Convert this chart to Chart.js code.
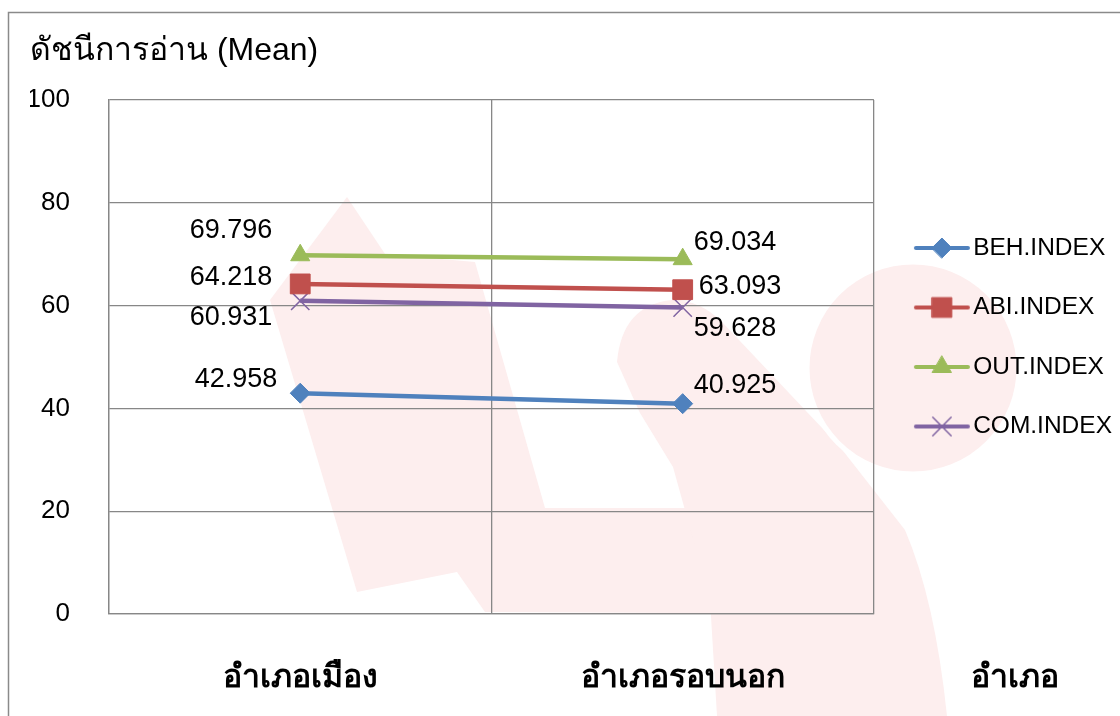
<!DOCTYPE html>
<html>
<head>
<meta charset="utf-8">
<script src="https://cdn.jsdelivr.net/npm/chart.js"></script>
<style>
  html, body { margin: 0; padding: 0; background: #fff; }
  #wrap { width: 1120px; height: 716px; }
</style>
</head>
<body>
<div id="wrap"><canvas id="chart" width="1120" height="716"></canvas></div>
<script>
const districts = ["อำเภอเมือง", "อำเภอรอบนอก"];
const seriesNames = ["BEH.INDEX", "ABI.INDEX", "OUT.INDEX", "COM.INDEX"];
const behIndex = [42.958, 40.925];
const abiIndex = [64.218, 63.093];
const outIndex = [69.796, 69.034];
const comIndex = [60.931, 59.628];
const yTicks = [0, 20, 40, 60, 80, 100];
const yTitle = "ดัชนีการอ่าน (Mean)";
const xTitle = "อำเภอ";

const FONT = '"Liberation Sans", Arial, sans-serif';
const colors = ["#4F81BD", "#C0504D", "#9BBB59", "#8064A2"];
const markers = ["rectRot", "rect", "triangle", "crossRot"];
const markerSize = [10, 14, 11, 13];
const gridColor = "#878787";

// where each value label sits relative to its point: [dx, dy, align]
const labelPlace = [
  [[-23, -14, "right"], [11, -18, "left"]],
  [[-28, -6, "right"], [16, -3, "left"]],
  [[-28, -25, "right"], [11, -17, "left"]],
  [[-28, 17, "right"], [11, 21, "left"]]
];

// legend icons: short line with the marker in the middle
// (drawn a little right of the canvas centre so it lines up with the text)
function makeIcon(i) {
  const c = document.createElement("canvas");
  c.width = 72; c.height = 26;
  const g = c.getContext("2d");
  g.strokeStyle = colors[i];
  g.lineWidth = 4;
  g.lineCap = "round";
  g.beginPath(); g.moveTo(17, 13); g.lineTo(69, 13); g.stroke();
  g.fillStyle = colors[i];
  g.lineWidth = i === 3 ? 1.5 : 1;
  Chart.helpers.drawPoint(g, { pointStyle: markers[i], radius: markerSize[i], borderWidth: g.lineWidth }, 43, 13);
  return c;
}

const backdrop = {
  id: "backdrop",
  beforeDraw(chart) {
    const ctx = chart.ctx;
    ctx.save();
    ctx.fillStyle = "#fff";
    ctx.fillRect(0, 0, chart.width, chart.height);
    // faint logo watermark
    ctx.fillStyle = "#fdeeee";
    ctx.beginPath();
    ctx.moveTo(347, 197); ctx.lineTo(385, 254); ctx.lineTo(475, 262);
    ctx.lineTo(545, 508); ctx.lineTo(873, 508); ctx.lineTo(873, 614);
    ctx.lineTo(485, 612); ctx.lineTo(457, 572); ctx.lineTo(357, 592);
    ctx.lineTo(270, 300); ctx.closePath(); ctx.fill();
    ctx.beginPath();
    ctx.moveTo(617, 362);
    ctx.quadraticCurveTo(622, 305, 672, 300);
    ctx.quadraticCurveTo(700, 300, 722, 322);
    ctx.lineTo(840, 447); ctx.lineTo(905, 530);
    ctx.quadraticCurveTo(935, 600, 947, 716);
    ctx.lineTo(717, 716); ctx.lineTo(710, 600);
    ctx.lineTo(673, 467); ctx.lineTo(640, 413); ctx.closePath(); ctx.fill();
    ctx.beginPath(); ctx.arc(913, 368, 106, 0, Math.PI * 2); ctx.fill();
    ctx.strokeStyle = "#fff"; ctx.lineWidth = 5; ctx.stroke();
    // outer frame
    ctx.strokeStyle = "#8a8a8a"; ctx.lineWidth = 1.5;
    ctx.strokeRect(8.5, 12.5, 1300, 900);
    ctx.restore();
  },
  afterDraw(chart) {
    const ctx = chart.ctx;
    ctx.save();
    ctx.fillStyle = "#000";
    ctx.font = "bold 32px " + FONT;
    ctx.textAlign = "center";
    ctx.textBaseline = "middle";
    ctx.fillText(xTitle, 1015, chart.chartArea.bottom + 64);
    ctx.restore();
  }
};

const valueLabels = {
  id: "valueLabels",
  afterDatasetsDraw(chart) {
    const ctx = chart.ctx;
    ctx.save();
    ctx.font = "27px " + FONT;
    ctx.fillStyle = "#000";
    ctx.textBaseline = "middle";
    chart.data.datasets.forEach((ds, di) => {
      chart.getDatasetMeta(di).data.forEach((pt, i) => {
        const [dx, dy, align] = labelPlace[di][i];
        ctx.textAlign = align;
        ctx.fillText(ds.data[i].toFixed(3), pt.x + dx, pt.y + dy);
      });
    });
    ctx.restore();
  }
};

const seriesData = [behIndex, abiIndex, outIndex, comIndex];
const icons = seriesNames.map((n, i) => makeIcon(i));

new Chart(document.getElementById("chart"), {
  type: "line",
  data: {
    labels: districts,
    datasets: seriesNames.map((name, i) => ({
      label: name,
      data: seriesData[i],
      borderColor: colors[i],
      backgroundColor: colors[i],
      borderWidth: 4.5,
      pointStyle: markers[i],
      pointRadius: markerSize[i],
      pointBorderWidth: i === 3 ? 1.5 : 1,
      pointBorderColor: colors[i],
      pointBackgroundColor: colors[i],
      tension: 0
    }))
  },
  options: {
    responsive: false,
    animation: false,
    events: [],
    layout: { padding: { left: 30, top: 0, right: -2, bottom: 0 } },
    plugins: {
      tooltip: { enabled: false },
      title: {
        display: true,
        text: yTitle,
        align: "start",
        color: "#000",
        font: { family: FONT, size: 32, weight: "normal" },
        padding: { top: 32, bottom: 29.6 }
      },
      legend: {
        position: "right",
        align: "start",
        // empty title only pushes the entries down to where they sit in the original
        title: { display: true, text: "", font: { size: 12 }, padding: { top: 186.35, bottom: 0 } },
        labels: {
          usePointStyle: true,
          pointStyleWidth: 52,
          padding: 35,
          color: "#000",
          font: { family: FONT, size: 24.5 },
          generateLabels: chart => chart.data.datasets.map((ds, i) => ({
            text: ds.label,
            pointStyle: icons[i],
            fillStyle: colors[i],
            strokeStyle: colors[i],
            fontColor: "#000",
            lineWidth: 0,
            hidden: false,
            datasetIndex: i
          }))
        }
      }
    },
    scales: {
      x: {
        offset: true,
        grid: { offset: true, color: gridColor, lineWidth: 1.3, drawTicks: false },
        border: { color: gridColor, width: 1.3 },
        ticks: { color: "#000", font: { family: FONT, size: 32, weight: "bold" }, padding: 45, maxRotation: 0 },
        afterFit: s => { s.height = 102; }
      },
      y: {
        min: 0,
        max: 100,
        afterBuildTicks: s => { s.ticks = yTicks.map(v => ({ value: v })); },
        grid: { color: gridColor, lineWidth: 1.3, drawTicks: false },
        border: { color: gridColor, width: 1.3 },
        ticks: { color: "#000", font: { family: FONT, size: 26 }, padding: 39 },
        afterFit: s => { s.width = 79; }
      }
    }
  },
  plugins: [backdrop, valueLabels]
});
</script>
</body>
</html>
